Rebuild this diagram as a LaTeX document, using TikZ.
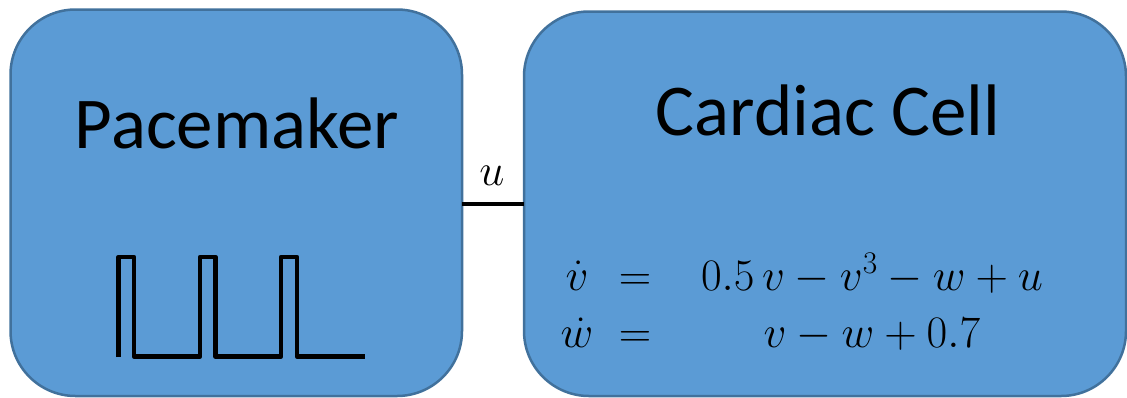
\documentclass[tikz,border=0pt]{standalone}
\usepackage{fix-cm}
\usepackage{fontspec}
\newfontfamily\boxfont{Carlito}
\definecolor{boxfill}{RGB}{91,155,213}
\definecolor{boxline}{RGB}{65,113,156}
\tikzset{
  blockbox/.style={draw=boxline, fill=boxfill, line width=2.5pt, rounded corners=65pt, inner sep=0pt, outer sep=0pt},
  title/.style={font=\boxfont\fontsize{73}{80}\selectfont, anchor=base, inner sep=0pt},
  eq/.style={font=\fontsize{45}{50}\selectfont, anchor=base, inner sep=0pt},
  wire/.style={line width=4pt, black},
  pulse/.style={line width=4.5pt, black, line join=round}
}
\begin{document}
\begin{tikzpicture}[x=1pt,y=-1pt]
\useasboundingbox (0,0) rectangle (1127,397);
\node[blockbox, minimum width=451.5pt, minimum height=386.5pt] (pm) at (236.25,202.75) {};
\node[blockbox, minimum width=602pt, minimum height=384.5pt] (cc) at (825,203.75) {};
\draw[wire] (pm.east |- 0,204) -- (cc.west |- 0,204);
\node[eq] (u) at (492,185) {$u$};
\node[title] (pmt) at (237,148) {Pacemaker};
\node[title] (cct) at (828,135) {Cardiac Cell};
\draw[pulse] (118.5,357) -- (118.5,257) -- (134,257) -- (134,356.5) -- (200,356.5) -- (200,257) -- (215.5,257) -- (215.5,356.5) -- (281,356.5) -- (281,257) -- (297,257) -- (297,356.5) -- (365,356.5);
\node[eq] (l1) at (577,290) {$\dot v$};
\node[eq] (e1) at (635,290) {$=$};
\node[eq] (r1) at (872,290) {$0.5\,v-v^3-w+u$};
\node[eq] (l2) at (577,347) {$\dot w$};
\node[eq] (e2) at (635,347) {$=$};
\node[eq] (r2) at (872,347) {$v-w+0.7$};
\end{tikzpicture}
\end{document}
